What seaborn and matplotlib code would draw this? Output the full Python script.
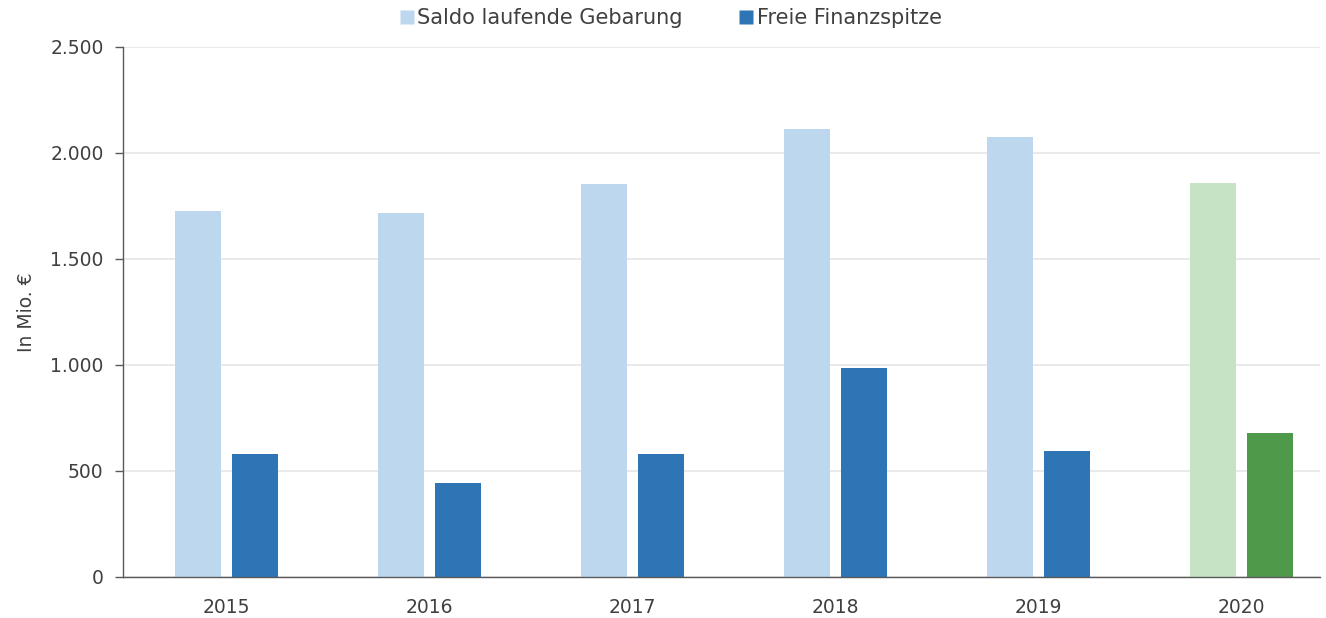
import matplotlib
matplotlib.use("Agg")
import matplotlib.pyplot as plt
import seaborn as sns
import pandas as pd
from matplotlib.lines import Line2D
from matplotlib.ticker import FuncFormatter

years = ["2015", "2016", "2017", "2018", "2019", "2020"]
saldo = [1728, 1717, 1854, 2113, 2075, 1858]
finanzspitze = [580, 443, 580, 986, 594, 679]
series_names = ["Saldo laufende Gebarung", "Freie Finanzspitze"]
light_colors = ["#BDD7EE"] * 5 + ["#C6E3C5"]
dark_colors = ["#2E75B6"] * 5 + ["#4E9A4A"]

df = pd.DataFrame({
    "Jahr": years * 2,
    "Wert": saldo + finanzspitze,
    "Serie": [series_names[0]] * len(years) + [series_names[1]] * len(years),
})

sns.set_theme(style="white")
plt.rcParams["font.family"] = ["DejaVu Sans"]
text_color = "#404040"

fig = plt.figure(figsize=(13.26, 6.18), dpi=100)
ax = fig.add_axes([123 / 1326, 1 - 577 / 618, (1320 - 123) / 1326, (577 - 47) / 618])

sns.barplot(data=df, x="Jahr", y="Wert", hue="Serie", order=years,
            hue_order=series_names,
            palette=[light_colors[0], dark_colors[0]],
            width=0.56, gap=0.19, legend=False, ax=ax, saturation=1)

n = len(years)
bars = [p for p in ax.patches]
for i, p in enumerate(bars[:n]):
    p.set_facecolor(light_colors[i])
    p.set_edgecolor("none")
for i, p in enumerate(bars[n:2 * n]):
    p.set_facecolor(dark_colors[i])
    p.set_edgecolor("none")

ax.set_ylim(0, 2500)
ax.set_xlim(-0.51, 5.387)
ax.set_yticks([0, 500, 1000, 1500, 2000, 2500])
ax.yaxis.set_major_formatter(FuncFormatter(lambda v, _: f"{int(v):,}".replace(",", ".")))
ax.grid(axis="y", color="#E6E6E6", linewidth=1.2)
ax.set_axisbelow(True)

for s in ["top", "right"]:
    ax.spines[s].set_visible(False)
ax.spines["left"].set_color("#595959")
ax.spines["bottom"].set_color("#595959")
ax.spines["left"].set_linewidth(1.0)
ax.spines["bottom"].set_linewidth(1.0)

ax.tick_params(axis="y", which="major", left=True, length=6, width=1.0, color="#595959",
               labelsize=13.5, labelcolor=text_color, pad=8)
ax.tick_params(axis="x", bottom=False, labelsize=13.5, labelcolor=text_color, pad=9)

ax.set_xlabel("")
ax.set_ylabel("In Mio. €", fontsize=13.5, color=text_color, labelpad=10)

handles = [Line2D([0], [0], marker="s", linestyle="none", markersize=10,
                  markerfacecolor=light_colors[0], markeredgecolor="none"),
           Line2D([0], [0], marker="s", linestyle="none", markersize=10,
                  markerfacecolor=dark_colors[0], markeredgecolor="none")]
fig.legend(handles, series_names, loc="center", bbox_to_anchor=(0.505, 1 - 18 / 618),
           ncol=2, frameon=False, fontsize=15, labelcolor=text_color,
           handletextpad=0.05, columnspacing=2.6, handlelength=0.9)

fig.savefig("out.png", dpi=100)
